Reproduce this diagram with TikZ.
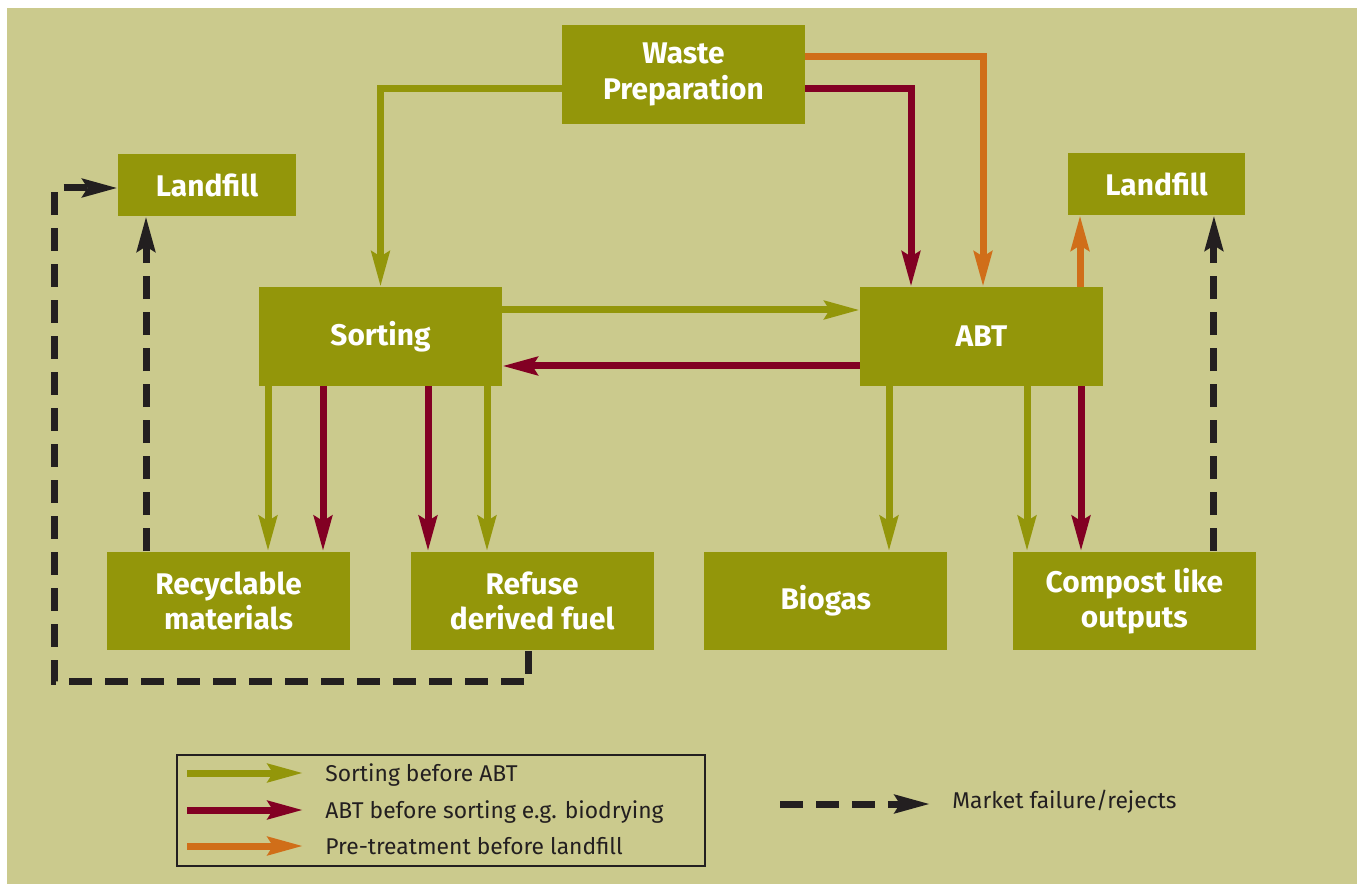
\documentclass[tikz,border=0pt]{standalone}
\usepackage{fontspec}
\setmainfont{Fira Sans}
\usetikzlibrary{positioning, calc, arrows.meta}
\definecolor{wpBack}{RGB}{203,202,141}
\definecolor{wpBox}{RGB}{147,150,10}
\definecolor{wpRed}{RGB}{130,0,35}
\definecolor{wpOrange}{RGB}{208,110,25}
\definecolor{wpBlack}{RGB}{35,31,32}

\begin{document}
\begin{tikzpicture}[x=0.02cm, y=-0.02cm,
  box/.style={fill=wpBox, text=white, minimum width=4.86cm, minimum height=1.98cm, inner sep=0pt, align=center, font=\fontsize{17}{20}\selectfont\bfseries},
  smallbox/.style={box, minimum width=3.56cm, minimum height=1.24cm},
  flow/.style={-{Stealth[length=0.7cm, width=0.36cm, inset=0.1cm]}, line width=0.14cm},
  sortarrow/.style={flow, wpBox},
  abtarrow/.style={flow, wpRed},
  prearrow/.style={flow, wpOrange},
  reject/.style={flow, wpBlack, dash pattern=on 0.46cm off 0.26cm},
  legendtext/.style={anchor=base west, inner sep=0pt, text=wpBlack, font=\fontsize{13}{15}\selectfont}
]
  \useasboundingbox (0,0) rectangle (1362,884);
  \fill[white] (0,0) rectangle (1362,884);
  \fill[wpBack] (7,8) rectangle (1357,884);

  % boxes
  \node[box] (prep) at (683.5,74.5) {Waste\\Preparation};
  \node[smallbox] (landL) at (207,185) {Landfill};
  \node[smallbox] (landR) at (1156.5,184) {Landfill};
  \node[box] (sorting) at (380.5,336.5) {Sorting};
  \node[box] (abt) at (981.5,336.5) {ABT};
  \node[box] (recyc) at (228.5,601) {Recyclable\\materials};
  \node[box, right=1.2cm of recyc] (rdf) {Refuse\\derived fuel};
  \node[box, right=1cm of rdf] (biogas) {Biogas};
  \node[box, right=1.3cm of biogas] (compost) {Compost like\\outputs};

  % from waste preparation
  \draw[sortarrow] ($(prep.west)+(0,14.5)$) -| (sorting.north);
  \draw[abtarrow] ($(prep.east)+(0,14.5)$) -| ($(abt.north)+(-70.5,0)$);
  \draw[prearrow] ($(prep.east)+(0,-17.5)$) -| ($(abt.north)+(1.5,0)$);

  % sorting <-> abt
  \draw[sortarrow] ($(sorting.east)+(0,-26.5)$) -- ($(abt.west)+(0,-26.5)$);
  \draw[abtarrow] ($(abt.west)+(0,29.5)$) -- ($(sorting.east)+(0,29.5)$);
  \draw[prearrow] ($(abt.north)+(98.5,0)$) coordinate (o1) -- (o1 |- landR.south);

  % outputs of sorting
  \draw[sortarrow] ($(sorting.south)+(-112.5,0)$) coordinate (s1) -- (s1 |- recyc.north);
  \draw[abtarrow] ($(sorting.south)+(-57.5,0)$) coordinate (s2) -- (s2 |- recyc.north);
  \draw[abtarrow] ($(sorting.south)+(47.5,0)$) coordinate (s3) -- (s3 |- rdf.north);
  \draw[sortarrow] ($(sorting.south)+(106.5,0)$) coordinate (s4) -- (s4 |- rdf.north);

  % outputs of abt
  \draw[sortarrow] ($(abt.south)+(-92.5,0)$) coordinate (a1) -- (a1 |- biogas.north);
  \draw[sortarrow] ($(abt.south)+(45.5,0)$) coordinate (a2) -- (a2 |- compost.north);
  \draw[abtarrow] ($(abt.south)+(99.5,0)$) coordinate (a3) -- (a3 |- compost.north);

  % rejects
  \draw[reject] ($(recyc.north)+(-82.5,0)$) coordinate (r1) -- (r1 |- landL.south);
  \draw[reject] ($(rdf.south)+(-3.5,0)$) -- ++(0,31) -| ($(landL.west)+(-63,3)$) -- ($(landL.west)+(0,3)$);
  \draw[reject] ($(compost.north)+(79.5,0)$) coordinate (r2) -- (r2 |- landR.south);

  % legend
  \node[draw=wpBlack, line width=0.7pt, minimum width=10.56cm, minimum height=2.22cm, inner sep=0pt] (legend) at (441,810.5) {};
  \node[legendtext] (lgSort) at (325,781) {Sorting before ABT};
  \node[legendtext] (lgAbt) at (325,818) {ABT before sorting e.g. biodrying};
  \node[legendtext] (lgPre) at (325,854) {Pre-treatment before landfill};
  \node[legendtext] (lgRej) at (952,808) {Market failure/rejects};
  \coordinate (ls1) at (187,773); \coordinate (le1) at (303,773);
  \coordinate (ls2) at (187,810); \coordinate (le2) at (303,810);
  \coordinate (ls3) at (187,846); \coordinate (le3) at (303,846);
  \coordinate (ls4) at (780,804); \coordinate (le4) at (930,804);
  \draw[sortarrow] (ls1) -- (le1);
  \draw[abtarrow] (ls2) -- (le2);
  \draw[prearrow] (ls3) -- (le3);
  \draw[reject] (ls4) -- (le4);
\end{tikzpicture}
\end{document}
